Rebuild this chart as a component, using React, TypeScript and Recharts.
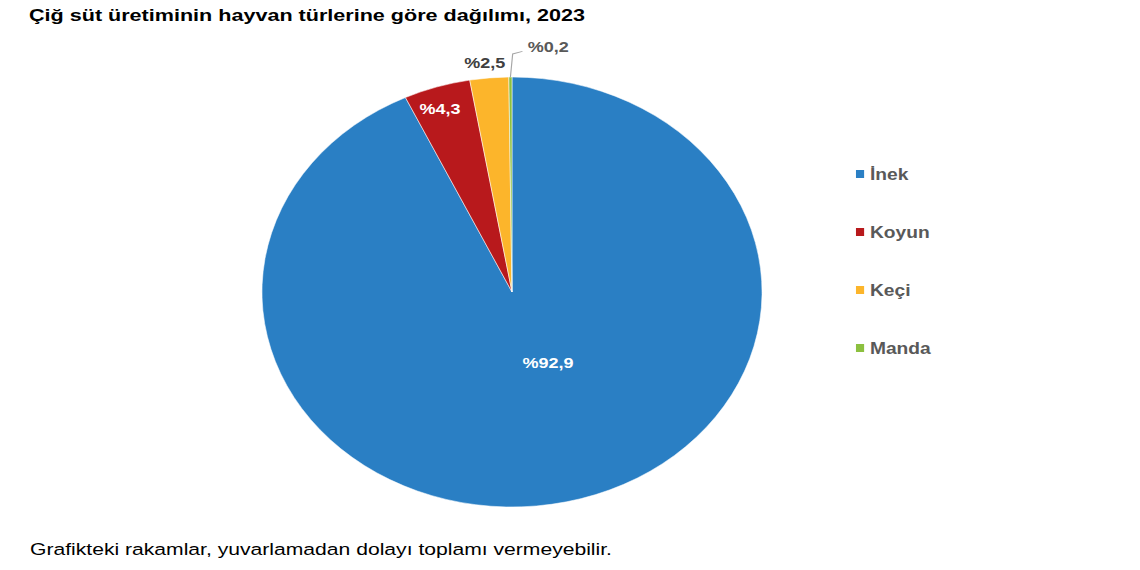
import { PieChart, Pie, Cell, Legend } from 'recharts';

const species = ['İnek', 'Koyun', 'Keçi', 'Manda'];
const shares = [92.9, 4.3, 2.5, 0.2];
const shareLabels = ['%92,9', '%4,3', '%2,5', '%0,2'];
const colors = ['#2A7FC4', '#B8191C', '#FCB52B', '#8CC03F'];

const data = species.map((name, i) => ({ name, value: shares[i], label: shareLabels[i] }));

const FONT = '"Liberation Sans", Arial, sans-serif';
const SX = 1.163; // the source picture is stretched sideways
const RADIAN = Math.PI / 180;

// label placement per slice: radius factor, angle shift, colour
const labelLayout = [
  { k: 0.36, dA: 11, color: '#ffffff' },
  { k: 0.9, dA: 1.2, color: '#ffffff' },
  { k: 1.07, dA: 0.6, color: '#404040' },
  { k: 1.15, dA: -7.6, color: '#595959' },
];

const polar = (cx: number, cy: number, r: number, angle: number) => ({
  x: cx + r * Math.cos(-angle * RADIAN),
  y: cy + r * Math.sin(-angle * RADIAN),
});

const renderLabel = (props: any) => {
  const { cx, cy, midAngle, outerRadius, index } = props;
  const l = labelLayout[index];
  const p = polar(cx, cy, outerRadius * l.k, midAngle + l.dA);
  let line = null;
  if (index === 3) {
    const a = polar(cx, cy, outerRadius, midAngle);
    const b = polar(cx, cy, outerRadius * 1.107, midAngle - 0.5);
    const c = polar(cx, cy, outerRadius * 1.12, midAngle - 2.5);
    line = (
      <polyline
        points={`${a.x},${a.y} ${b.x},${b.y} ${c.x},${c.y}`}
        fill="none"
        stroke="#A6A6A6"
        strokeWidth={1}
      />
    );
  }
  return (
    <g>
      {line}
      <text
        x={p.x}
        y={p.y}
        textAnchor="middle"
        dominantBaseline="central"
        fill={l.color}
        fontSize={15.5}
        fontWeight="bold"
        fontFamily={FONT}
      >
        {data[index].label}
      </text>
    </g>
  );
};

// keep the legend in data order (recharts sorts it by name otherwise)
const renderLegend = (props: any) => {
  const items = [...(props.payload || [])].sort(
    (a: any, b: any) => species.indexOf(a.value) - species.indexOf(b.value)
  );
  return (
    <div>
      {items.map((entry: any) => (
        <div key={entry.value} style={{ height: 58, display: 'flex', alignItems: 'center' }}>
          <span
            style={{
              display: 'inline-block',
              width: 7,
              height: 8,
              background: colors[species.indexOf(entry.value)],
              marginRight: 5,
            }}
          />
          <span style={{ color: '#595959', fontWeight: 'bold', fontSize: 16.5, fontFamily: FONT }}>
            {entry.value}
          </span>
        </div>
      ))}
    </div>
  );
};

export default function App() {
  return (
    <div style={{ position: 'relative', width: 1140, height: 570, background: '#fff', overflow: 'hidden' }}>
      <style>{'body{margin:0}'}</style>
      <div
        style={{
          position: 'absolute',
          left: 0,
          top: 0,
          width: 1140 / SX,
          height: 570,
          transform: `scaleX(${SX})`,
          transformOrigin: '0 0',
        }}
      >
        <PieChart width={1140 / SX} height={570} margin={{ top: 0, right: 0, bottom: 0, left: 0 }}>
          <Pie
            data={data}
            dataKey="value"
            nameKey="name"
            cx={512 / SX}
            cy={292}
            outerRadius={215}
            startAngle={90}
            endAngle={-270}
            stroke="#ffffff"
            strokeWidth={0.5}
            label={renderLabel}
            labelLine={false}
            isAnimationActive={false}
          >
            {data.map((d, i) => (
              <Cell key={d.name} fill={colors[i]} />
            ))}
          </Pie>
          <Legend
            layout="vertical"
            align="right"
            verticalAlign="top"
            content={renderLegend}
            wrapperStyle={{ left: 736, top: 145, width: 'auto' }}
          />
        </PieChart>
      </div>
      <svg width={1140} height={570} style={{ position: 'absolute', left: 0, top: 0, pointerEvents: 'none' }}>
        <text
          x={29}
          y={21}
          fontFamily={FONT}
          fontSize={16.5}
          fontWeight="bold"
          fill="#000"
          textLength={556}
          lengthAdjust="spacingAndGlyphs"
        >
          Çiğ süt üretiminin hayvan türlerine göre dağılımı, 2023
        </text>
        <text
          x={30}
          y={555}
          fontFamily={FONT}
          fontSize={16.3}
          fill="#000"
          textLength={582}
          lengthAdjust="spacingAndGlyphs"
        >
          Grafikteki rakamlar, yuvarlamadan dolayı toplamı vermeyebilir.
        </text>
      </svg>
    </div>
  );
}
